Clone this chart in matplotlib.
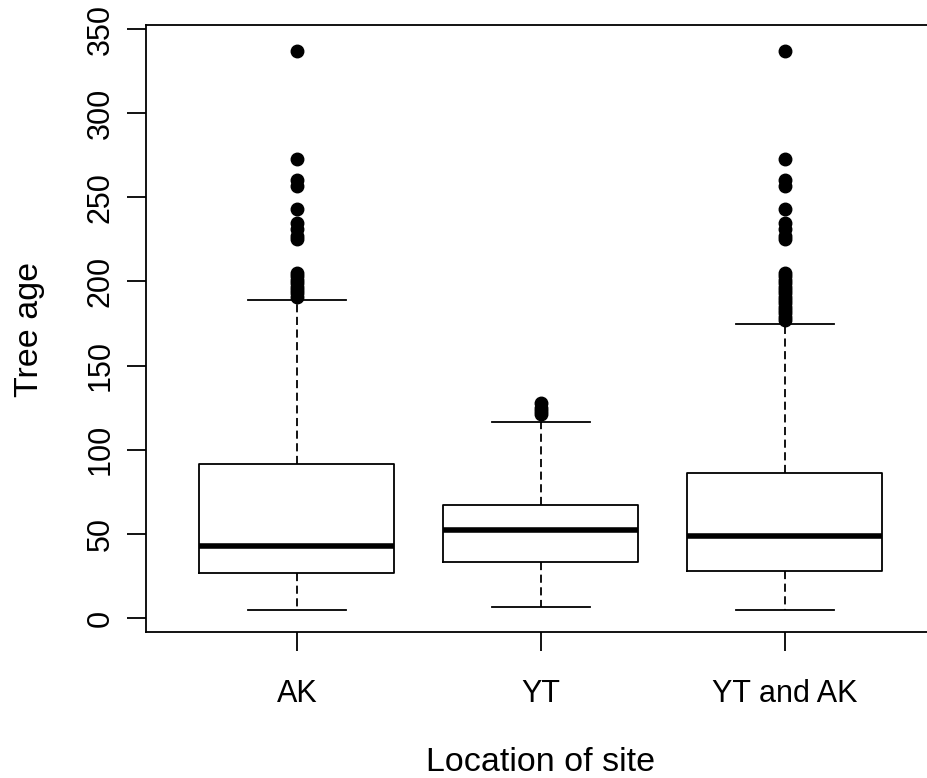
import matplotlib
matplotlib.use("Agg")
import matplotlib.pyplot as plt

categories = ["AK", "YT", "YT and AK"]
q1 = [26.7, 33.4, 27.7]
medians = [43.0, 52.6, 48.5]
q3 = [91.8, 67.0, 86.2]
whis_lo = [5.0, 6.3, 5.0]
whis_hi = [189.0, 116.4, 174.8]
fliers_ak = [337, 273, 260, 257, 243, 235, 231, 227, 225,
             205, 203, 201, 199, 197, 195, 193, 191]
fliers_yt = [121, 123, 125, 128]
fliers_ytak = [337, 273, 260, 257, 243, 235, 231, 227, 225,
               205, 203, 201, 199, 197, 195, 193, 191, 189, 187,
               185, 183, 181, 179, 177]
y_ticks = [0, 50, 100, 150, 200, 250, 300, 350]

plt.rcParams['font.family'] = ['Liberation Sans', 'DejaVu Sans']

W, H = 928, 778
fig = plt.figure(figsize=(W / 100, H / 100), dpi=100)
left_px, right_px, top_px, bot_px = 145.7, 936.0, 25.0, 632.0
ax = fig.add_axes([left_px / W, 1 - bot_px / H,
                   (right_px - left_px) / W, (bot_px - top_px) / H])

fliers = [fliers_ak, fliers_yt, fliers_ytak]
stats = []
for i, c in enumerate(categories):
    stats.append(dict(label=c, med=medians[i], q1=q1[i], q3=q3[i],
                      whislo=whis_lo[i], whishi=whis_hi[i], fliers=fliers[i]))

lw = 1.3
ax.bxp(stats, positions=[1, 2, 3], widths=0.8, showfliers=True,
       boxprops=dict(color='black', linewidth=lw),
       medianprops=dict(color='black', linewidth=4.0, solid_capstyle='butt'),
       whiskerprops=dict(color='black', linewidth=lw, linestyle=(0, (4.5, 2.5))),
       capprops=dict(color='black', linewidth=lw),
       flierprops=dict(marker='o', markerfacecolor='black',
                       markeredgecolor='black', markersize=9, linestyle='none'))

ax.set_xlim(0.38, 3.62)
ax.set_ylim(-8.3, 352.4)
ax.set_xticks([1, 2, 3])
ax.set_xticklabels(categories)
ax.set_yticks(y_ticks)
ax.set_yticklabels([str(v) for v in y_ticks])

for s in ax.spines.values():
    s.set_linewidth(lw)
    s.set_color('black')
ax.spines['right'].set_visible(False)

ax.tick_params(axis='both', length=13.7, width=lw, labelsize=22, color='black')
ax.tick_params(axis='x', pad=20.0)
ax.tick_params(axis='y', pad=8.0, labelrotation=90)
for lbl in ax.get_yticklabels():
    lbl.set_va('center')

fig.text(38 / W, 1 - 329 / H, "Tree age", rotation=90, rotation_mode='anchor',
         ha='center', va='baseline', fontsize=24.5)
fig.text(541 / W, 1 - 771 / H, "Location of site", ha='center', va='baseline',
         fontsize=24.5)

fig.savefig("out.png", dpi=100)
